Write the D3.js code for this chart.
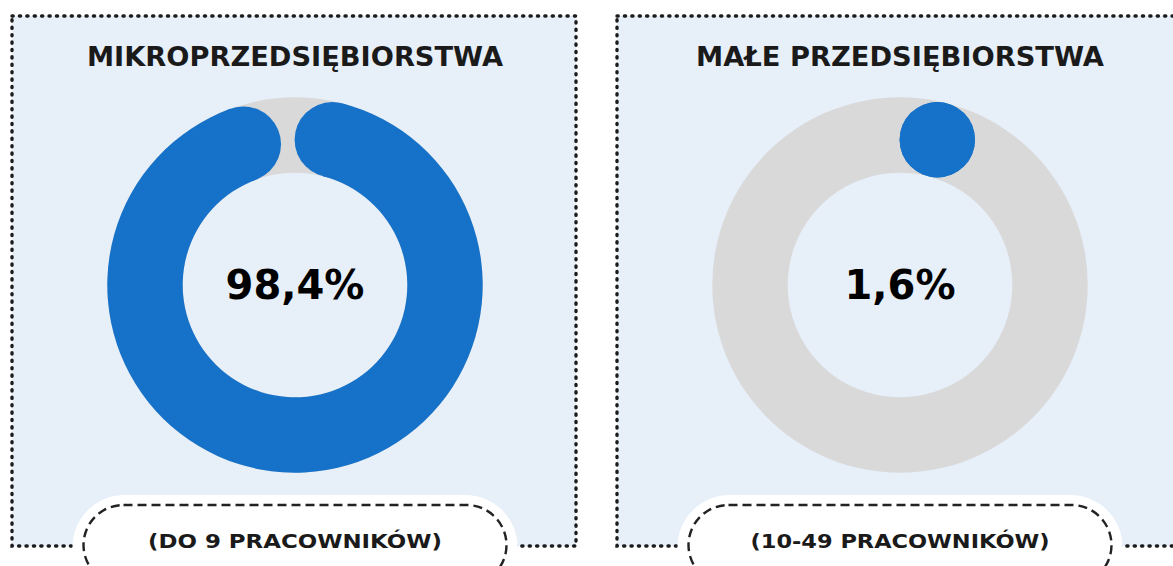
<!DOCTYPE html>
<html>
<head>
<meta charset="utf-8">
<script src="https://cdn.jsdelivr.net/npm/d3@7/dist/d3.min.js"></script>
<style>
  html, body { margin: 0; padding: 0; background: #ffffff; }
  svg { display: block; }
</style>
</head>
<body>
<svg id="chart" width="1173" height="566"></svg>
<script>
// ---- data ----
const categories = ["MIKROPRZEDSIĘBIORSTWA", "MAŁE PRZEDSIĘBIORSTWA"];
const subtitles = ["(DO 9 PRACOWNIKÓW)", "(10-49 PRACOWNIKÓW)"];
const values = [98.4, 1.6];
const valueLabels = ["98,4%", "1,6%"];

// ---- layout ----
const panelX0 = 12, panelStep = 605, panelW = 564, panelY = 16, panelH = 530;
const cy = 285, outerR = 187.7, innerR = 112.3;
const midR = (outerR + innerR) / 2, thick = outerR - innerR;
const capA = (thick / 2) / midR;

const svg = d3.select("#chart");
const angle = d3.scaleLinear().domain([0, 100]).range([0, 2 * Math.PI]);
const arcGen = d3.arc().innerRadius(innerR).outerRadius(outerR);

categories.forEach((cat, i) => {
  const px = panelX0 + i * panelStep;
  const cx = px + panelW / 2 + 1;
  const g = svg.append("g");

  g.append("rect")
    .attr("x", px).attr("y", panelY).attr("width", panelW).attr("height", panelH)
    .attr("fill", "#e7eff9")
    .attr("stroke", "#1c1c1c").attr("stroke-width", 3.4)
    .attr("stroke-dasharray", "1.2 6.2").attr("stroke-linecap", "round");

  g.append("text")
    .attr("x", cx).attr("y", 66)
    .attr("text-anchor", "middle")
    .attr("font-family", "'DejaVu Sans', sans-serif")
    .attr("font-weight", 700).attr("font-size", 26)
    .attr("fill", "#1a1a1a")
    .attr("textLength", i === 0 ? 416 : 408).attr("lengthAdjust", "spacingAndGlyphs")
    .text(cat);

  const dg = g.append("g").attr("transform", `translate(${cx},${cy})`);
  dg.append("path")
    .attr("d", arcGen({ startAngle: 0, endAngle: 2 * Math.PI }))
    .attr("fill", "#d9d9d9");

  const a0 = angle(0) + capA;
  const a1 = Math.max(a0, angle(values[i]) - capA);
  if (a1 > a0) {
    dg.append("path")
      .attr("d", arcGen({ startAngle: a0, endAngle: a1 }))
      .attr("fill", "#1672c8");
  }
  [a0, a1].forEach(a => {
    const p = d3.pointRadial(a, midR);
    dg.append("circle")
      .attr("cx", p[0]).attr("cy", p[1]).attr("r", thick / 2)
      .attr("fill", "#1672c8");
  });

  dg.append("text")
    .attr("x", 0).attr("y", 14)
    .attr("text-anchor", "middle")
    .attr("font-family", "'DejaVu Sans', sans-serif")
    .attr("font-weight", 700).attr("font-size", 40)
    .attr("fill", "#000")
    .text(valueLabels[i]);

  const pillW = 445, pillX = cx - pillW / 2;
  g.append("rect")
    .attr("x", pillX).attr("y", 495).attr("width", pillW).attr("height", 110)
    .attr("rx", 52).attr("ry", 52)
    .attr("fill", "#ffffff");
  g.append("rect")
    .attr("x", pillX + 11).attr("y", 505).attr("width", pillW - 22).attr("height", 80)
    .attr("rx", 40).attr("ry", 40)
    .attr("fill", "none")
    .attr("stroke", "#222").attr("stroke-width", 2.4)
    .attr("stroke-dasharray", "9 5");
  g.append("text")
    .attr("x", cx).attr("y", 548)
    .attr("text-anchor", "middle")
    .attr("font-family", "'DejaVu Sans', sans-serif")
    .attr("font-weight", 700).attr("font-size", 20)
    .attr("fill", "#1a1a1a")
    .attr("textLength", i === 0 ? 294 : 299).attr("lengthAdjust", "spacingAndGlyphs")
    .text(subtitles[i]);
});
</script>
</body>
</html>
